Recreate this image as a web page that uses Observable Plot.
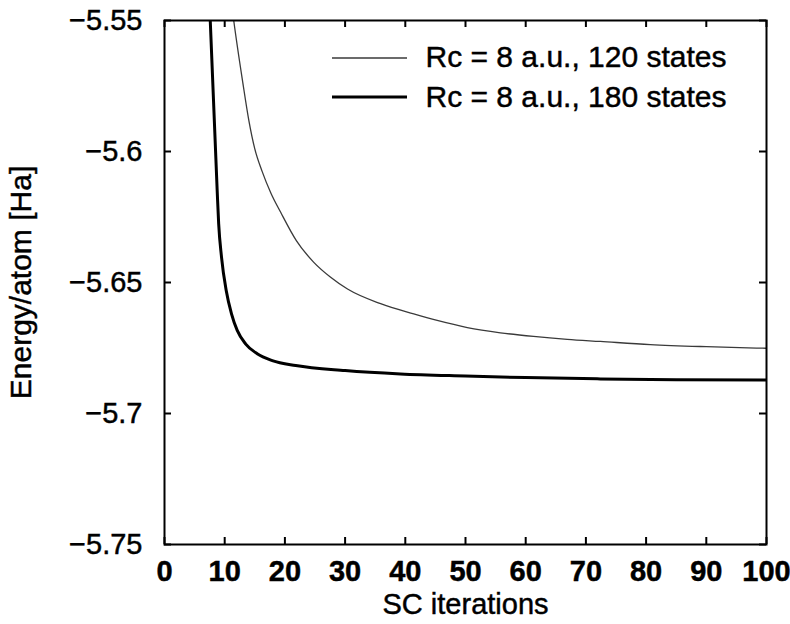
<!DOCTYPE html>
<html><head><meta charset="utf-8">
<script src="https://cdn.jsdelivr.net/npm/d3@7"></script>
<script src="https://cdn.jsdelivr.net/npm/@observablehq/plot@0.6"></script>
<style>
body{margin:0;background:#fff;}
#chart{position:relative;width:790px;height:624px;overflow:hidden;}
</style></head><body><div id="chart"></div>
<script>
// SC iteration positions and energies (Ha)
const it120 = [11.0, 11.5, 13.0, 14.0, 15.0, 16.2, 17.7, 19.3, 21.9, 24.8, 27.6, 30.4, 35.9, 41.4, 45.3, 50.3, 55.8, 61.3, 66.9, 72.4, 80.7, 90, 100];
const e120  = [-5.541, -5.55, -5.5736, -5.588, -5.599, -5.6075, -5.616, -5.6232, -5.634, -5.6423, -5.648, -5.6525, -5.6581, -5.662, -5.6645, -5.6672, -5.6692, -5.6706, -5.6717, -5.6725, -5.6737, -5.6745, -5.6751];
const it180 = [7.6, 8.75, 9.0, 9.47, 10.25, 11.13, 12.08, 13.46, 15.4, 17.9, 21.8, 30, 39.2, 50, 60, 72.4, 85, 100];
const e180  = [-5.55, -5.6149, -5.6276, -5.6403, -5.6531, -5.662, -5.6683, -5.6734, -5.6772, -5.6798, -5.6817, -5.6836, -5.6849, -5.6857, -5.6863, -5.6868, -5.6871, -5.6872];
const seriesNames = ["Rc = 8 a.u., 120 states", "Rc = 8 a.u., 180 states"];
const xTicks = [0, 10, 20, 30, 40, 50, 60, 70, 80, 90, 100];
const yTicks = [-5.75, -5.7, -5.65, -5.6, -5.55];
const xLabel = "SC iterations";
const yLabel = "Energy/atom [Ha]";

const rows120 = it120.map((x, i) => ({x, y: e120[i]}));
const rows180 = it180.map((x, i) => ({x, y: e180[i]}));
const legendRows = seriesNames.map((name, i) => ({name, i}));

const W = 790, H = 624, mL = 164, mR = 24, mT = 20, mB = 80;
const fw = W - mL - mR, fh = H - mT - mB, tk = 7;
const font = "'Liberation Sans', Arial, Helvetica, sans-serif";
const fs = 29;
const yFmt = d => (d < 0 ? "\u2212" : "") + String(Math.abs(d));

const plot = Plot.plot({
  width: W, height: H,
  marginLeft: mL, marginRight: mR, marginTop: mT, marginBottom: mB,
  style: {fontFamily: font, fontSize: fs + "px", color: "#000", background: "#fff"},
  x: {domain: [0, 100]},
  y: {domain: [-5.75, -5.55]},
  marks: [
    Plot.line(rows120, {x: "x", y: "y", stroke: "#3a3a3a", strokeWidth: 1.3, curve: "monotone-x", clip: true}),
    Plot.line(rows180, {x: "x", y: "y", stroke: "#000", strokeWidth: 3, curve: "monotone-x", clip: true}),
    // inward ticks on all four sides
    Plot.ruleX(xTicks, {x: d => d, insetTop: fh - tk, stroke: "#000", strokeWidth: 2}),
    Plot.ruleX(xTicks, {x: d => d, insetBottom: fh - tk, stroke: "#000", strokeWidth: 2}),
    Plot.ruleY(yTicks, {y: d => d, insetRight: fw - tk, stroke: "#000", strokeWidth: 2}),
    Plot.ruleY(yTicks, {y: d => d, insetLeft: fw - tk, stroke: "#000", strokeWidth: 2}),
    Plot.frame({stroke: "#000", strokeWidth: 2}),
    Plot.axisX(xTicks, {anchor: "bottom", tickSize: 0, tickPadding: 16, fontSize: fs, fontWeight: "bold", label: null}),
    Plot.axisY(yTicks, {anchor: "left", tickSize: 0, tickPadding: 22, fontSize: fs, tickFormat: yFmt, label: null}),
    Plot.text([xLabel], {frameAnchor: "bottom", dy: 60, fontSize: fs, textAnchor: "middle", lineAnchor: "middle", text: d => d}),
    Plot.text([yLabel], {frameAnchor: "left", dx: -143, rotate: -90, fontSize: fs + 1, textAnchor: "middle", lineAnchor: "middle", text: d => d}),
    Plot.text(legendRows.filter(r => r.i === 0), {frameAnchor: "top-left", dx: 261, dy: 37, textAnchor: "start", lineAnchor: "middle", fontSize: 30, text: "name"}),
    Plot.text(legendRows.filter(r => r.i === 1), {frameAnchor: "top-left", dx: 261, dy: 77, textAnchor: "start", lineAnchor: "middle", fontSize: 30, text: "name"})
  ]
});
document.getElementById("chart").appendChild(plot);

const svg = d3.select(plot);
// slightly heavier text, as in the scanned original
svg.selectAll("text").attr("stroke", "#000").attr("stroke-width", 0.45);

// legend sample lines
const legendStyles = [{stroke: "#3a3a3a", w: 1.3}, {stroke: "#000", w: 3}];
legendRows.forEach(r => {
  const yy = mT + (r.i === 0 ? 38 : 77);
  svg.append("line")
    .attr("x1", 332).attr("x2", 407).attr("y1", yy).attr("y2", yy)
    .attr("stroke", legendStyles[r.i].stroke).attr("stroke-width", legendStyles[r.i].w);
});
</script></body></html>
